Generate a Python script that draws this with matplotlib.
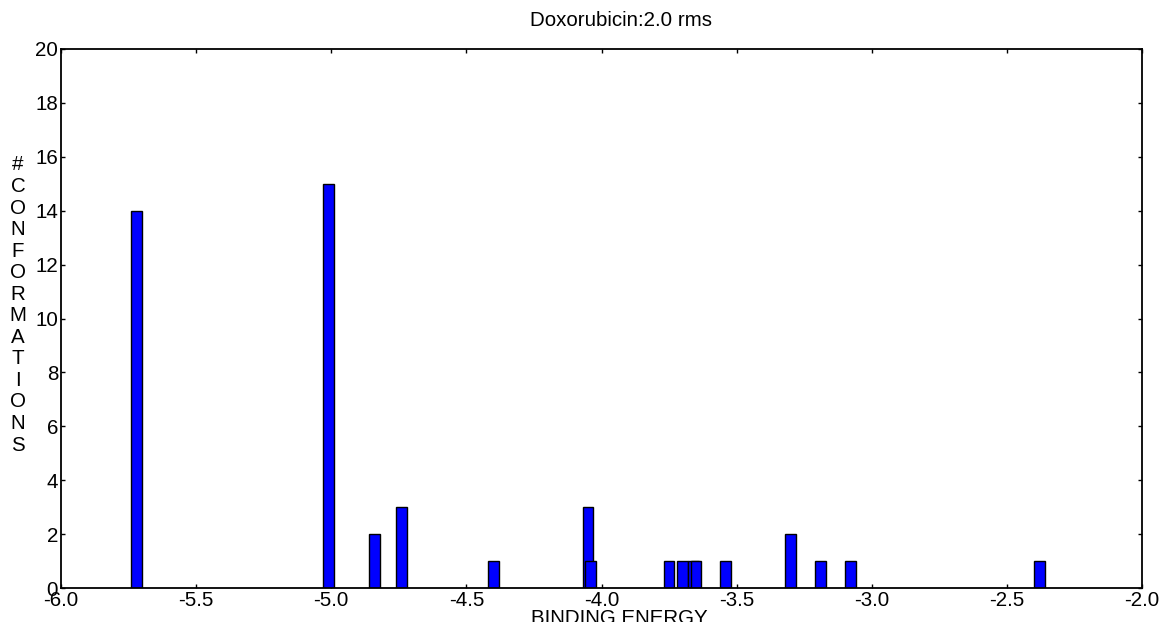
import matplotlib
matplotlib.use("Agg")
import matplotlib.pyplot as plt

# binding energy bins (bar centres) and counts
energies = [-5.72, -5.01, -4.84, -4.74, -4.40, -4.05, -4.04, -3.75,
            -3.70, -3.66, -3.65, -3.54, -3.30, -3.19, -3.08, -2.38]
counts = [14, 15, 2, 3, 1, 3, 1, 1, 1, 1, 1, 1, 2, 1, 1, 1]
x_ticks = [-6.0, -5.5, -5.0, -4.5, -4.0, -3.5, -3.0, -2.5, -2.0]
y_ticks = [0, 2, 4, 6, 8, 10, 12, 14, 16, 18, 20]

plt.rcParams['font.family'] = ['Liberation Sans', 'DejaVu Sans']

fig = plt.figure(figsize=(11.62, 6.22), dpi=100)
ax = fig.add_axes([61 / 1162, 34 / 622, 1081 / 1162, 539 / 622])

ax.bar(energies, counts, width=0.04, color='#0000ff', edgecolor='black',
       linewidth=1.0, align='center', zorder=2)

ax.set_xlim(-6.0, -2.0)
ax.set_ylim(0, 20)
ax.set_xticks(x_ticks)
ax.set_xticklabels([f"{t:.1f}" for t in x_ticks])
ax.set_yticks(y_ticks)
ax.tick_params(direction='in', length=3, width=1, labelsize=14.8,
               top=True, right=True, pad=2)
for s in ax.spines.values():
    s.set_linewidth(1.3)

fig.text(621 / 1162, 1 - 20 / 622, 'Doxorubicin:2.0 rms', ha='center',
         va='center', fontsize=14.8)
fig.text(619 / 1162, -0.004, 'BINDING ENERGY', ha='center', va='baseline',
         fontsize=14.8)
fig.text(18 / 1162, 1 - 305 / 622, '\n'.join('#CONFORMATIONS'), ha='center',
         va='center', fontsize=14.8, linespacing=1.17)

fig.savefig('out.png', dpi=100)
